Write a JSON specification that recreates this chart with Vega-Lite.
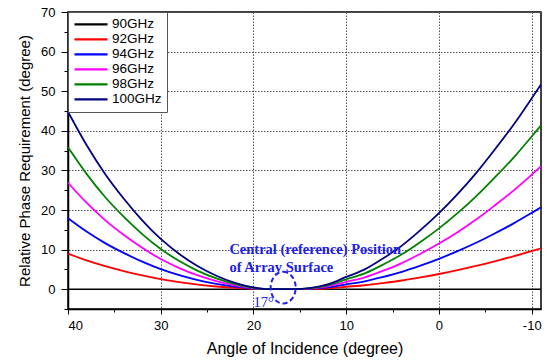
{
  "$schema": "https://vega.github.io/schema/vega-lite/v6.json",
  "width": 473,
  "height": 297,
  "autosize": {"type": "none"},
  "padding": {"left": 68, "top": 12, "right": 9, "bottom": 53},
  "background": "white",
  "config": {
    "view": {"stroke": "black", "strokeWidth": 1.5},
    "font": "Liberation Sans",
    "axis": {
      "labelFont": "Liberation Sans",
      "titleFont": "Liberation Sans",
      "labelColor": "black",
      "titleColor": "black",
      "domainColor": "black",
      "domainWidth": 1.5,
      "tickColor": "black",
      "titleFontWeight": "normal"
    }
  },
  "data": {
    "values": [
      {"angle": 40, "90GHz": 0, "92GHz": 8.96, "94GHz": 17.92, "96GHz": 26.88, "98GHz": 35.84, "100GHz": 44.8},
      {"angle": 38, "90GHz": 0, "92GHz": 7.28, "94GHz": 14.56, "96GHz": 21.84, "98GHz": 29.12, "100GHz": 36.4},
      {"angle": 36, "90GHz": 0, "92GHz": 5.82, "94GHz": 11.64, "96GHz": 17.46, "98GHz": 23.28, "100GHz": 29.1},
      {"angle": 34, "90GHz": 0, "92GHz": 4.58, "94GHz": 9.16, "96GHz": 13.74, "98GHz": 18.32, "100GHz": 22.9},
      {"angle": 32, "90GHz": 0, "92GHz": 3.48, "94GHz": 6.96, "96GHz": 10.44, "98GHz": 13.92, "100GHz": 17.4},
      {"angle": 30, "90GHz": 0, "92GHz": 2.54, "94GHz": 5.08, "96GHz": 7.62, "98GHz": 10.16, "100GHz": 12.7},
      {"angle": 28, "90GHz": 0, "92GHz": 1.78, "94GHz": 3.56, "96GHz": 5.34, "98GHz": 7.12, "100GHz": 8.9},
      {"angle": 26, "90GHz": 0, "92GHz": 1.16, "94GHz": 2.32, "96GHz": 3.48, "98GHz": 4.64, "100GHz": 5.8},
      {"angle": 24, "90GHz": 0, "92GHz": 0.68, "94GHz": 1.36, "96GHz": 2.04, "98GHz": 2.72, "100GHz": 3.4},
      {"angle": 22, "90GHz": 0, "92GHz": 0.32, "94GHz": 0.64, "96GHz": 0.96, "98GHz": 1.28, "100GHz": 1.6},
      {"angle": 20, "90GHz": 0, "92GHz": 0.09, "94GHz": 0.18, "96GHz": 0.27, "98GHz": 0.36, "100GHz": 0.45},
      {"angle": 18.5, "90GHz": 0, "92GHz": 0, "94GHz": 0, "96GHz": 0, "98GHz": 0, "100GHz": 0},
      {"angle": 17, "90GHz": 0, "92GHz": 0, "94GHz": 0, "96GHz": 0, "98GHz": 0, "100GHz": 0},
      {"angle": 15.5, "90GHz": 0, "92GHz": 0, "94GHz": 0, "96GHz": 0, "98GHz": 0, "100GHz": 0},
      {"angle": 14, "90GHz": 0, "92GHz": 0.05, "94GHz": 0.1, "96GHz": 0.15, "98GHz": 0.2, "100GHz": 0.25},
      {"angle": 12, "90GHz": 0, "92GHz": 0.24, "94GHz": 0.48, "96GHz": 0.72, "98GHz": 0.96, "100GHz": 1.2},
      {"angle": 10, "90GHz": 0, "92GHz": 0.62, "94GHz": 1.24, "96GHz": 1.86, "98GHz": 2.48, "100GHz": 3.1},
      {"angle": 8, "90GHz": 0, "92GHz": 1.0, "94GHz": 2.0, "96GHz": 3.0, "98GHz": 4.0, "100GHz": 5.0},
      {"angle": 6, "90GHz": 0, "92GHz": 1.56, "94GHz": 3.12, "96GHz": 4.68, "98GHz": 6.24, "100GHz": 7.8},
      {"angle": 4, "90GHz": 0, "92GHz": 2.2, "94GHz": 4.4, "96GHz": 6.6, "98GHz": 8.8, "100GHz": 11.0},
      {"angle": 2, "90GHz": 0, "92GHz": 2.98, "94GHz": 5.96, "96GHz": 8.94, "98GHz": 11.92, "100GHz": 14.9},
      {"angle": 0, "90GHz": 0, "92GHz": 3.84, "94GHz": 7.68, "96GHz": 11.52, "98GHz": 15.36, "100GHz": 19.2},
      {"angle": -2, "90GHz": 0, "92GHz": 4.8, "94GHz": 9.6, "96GHz": 14.4, "98GHz": 19.2, "100GHz": 24.0},
      {"angle": -4, "90GHz": 0, "92GHz": 5.86, "94GHz": 11.72, "96GHz": 17.58, "98GHz": 23.44, "100GHz": 29.3},
      {"angle": -6, "90GHz": 0, "92GHz": 7.04, "94GHz": 14.08, "96GHz": 21.12, "98GHz": 28.16, "100GHz": 35.2},
      {"angle": -8, "90GHz": 0, "92GHz": 8.28, "94GHz": 16.56, "96GHz": 24.84, "98GHz": 33.12, "100GHz": 41.4},
      {"angle": -10, "90GHz": 0, "92GHz": 9.64, "94GHz": 19.28, "96GHz": 28.92, "98GHz": 38.56, "100GHz": 48.2},
      {"angle": -11, "90GHz": 0, "92GHz": 10.34, "94GHz": 20.68, "96GHz": 31.02, "98GHz": 41.36, "100GHz": 51.7}
    ]
  },
  "layer": [
    {
      "transform": [
        {"fold": ["90GHz", "92GHz", "94GHz", "96GHz", "98GHz", "100GHz"], "as": ["freq", "phase"]},
        {"filter": "datum.freq === '90GHz'"}
      ],
      "mark": {"type": "line", "strokeWidth": 1.6},
      "encoding": {
        "x": {
          "field": "angle", "type": "quantitative",
          "scale": {"domain": [-11, 40], "reverse": true, "nice": false, "zero": false},
          "axis": {"orient": "bottom", "values": [35, 25, 15, 5, -5], "labels": false, "domain": false, "grid": false, "tickSize": 3, "title": null}
        },
        "y": {
          "field": "phase", "type": "quantitative",
          "scale": {"domain": [-5, 70], "nice": false, "zero": false},
          "axis": {"orient": "left", "values": [-5, 5, 15, 25, 35, 45, 55, 65], "labels": false, "domain": false, "grid": false, "tickSize": 4, "title": null}
        },
        "color": {
          "field": "freq", "type": "nominal",
          "scale": {
            "domain": ["90GHz", "92GHz", "94GHz", "96GHz", "98GHz", "100GHz"],
            "range": ["#000000", "#ff0000", "#0000ff", "#ff00ff", "#008000", "#000080"]
          },
          "legend": {
            "title": null, "orient": "top-left", "offset": 0, "padding": 5,
            "strokeColor": "#555555", "fillColor": "white",
            "symbolType": "stroke", "symbolSize": 1089, "symbolStrokeWidth": 2.4,
            "labelFontSize": 13.5, "labelFont": "Liberation Sans", "labelColor": "black",
            "labelOffset": 3, "clipHeight": 14.8, "rowPadding": 0
          }
        }
      }
    },
    {
      "transform": [
        {"fold": ["90GHz", "92GHz", "94GHz", "96GHz", "98GHz", "100GHz"], "as": ["freq", "phase"]},
        {"filter": "datum.freq !== '90GHz'"}
      ],
      "mark": {"type": "line", "strokeWidth": 1.8, "interpolate": "monotone"},
      "encoding": {
        "x": {
          "field": "angle", "type": "quantitative",
          "axis": {
            "orient": "bottom", "values": [40, 30, 20, 10, 0, -10],
            "labelExpr": "'' + datum.value",
            "tickSize": 5, "labelPadding": 5, "labelFontSize": 13,
            "grid": true, "gridDash": [1.5, 1.5], "gridColor": "#555555", "gridWidth": 1,
            "title": "Angle of Incidence (degree)", "titleFontSize": 16, "titlePadding": 8
          }
        },
        "y": {
          "field": "phase", "type": "quantitative",
          "axis": {
            "orient": "left", "values": [0, 10, 20, 30, 40, 50, 60, 70],
            "tickSize": 7, "labelPadding": 6, "labelFontSize": 13,
            "grid": true, "gridDash": [1.5, 1.5], "gridColor": "#555555", "gridWidth": 1,
            "title": "Relative Phase Requirement (degree)", "titleFontSize": 15, "titlePadding": 8
          }
        },
        "color": {"field": "freq", "type": "nominal"}
      }
    },
    {
      "data": {"values": [{}]},
      "mark": {
        "type": "point",
        "shape": "M0,-1C0.436,-1,0.79,-0.552,0.79,0C0.79,0.552,0.436,1,0,1C-0.436,1,-0.79,0.552,-0.79,0C-0.79,-0.552,-0.436,-1,0,-1Z",
        "size": 1005, "filled": false, "stroke": "#2020e8", "strokeWidth": 2,
        "strokeDash": [5, 3], "opacity": 1
      },
      "encoding": {
        "x": {"datum": 16.8, "type": "quantitative", "axis": null},
        "y": {"datum": 0.4, "type": "quantitative", "axis": null}
      }
    },
    {
      "data": {"values": [{}]},
      "mark": {
        "type": "text",
        "text": ["Central (reference) Position", "of Array Surface"],
        "align": "left", "baseline": "middle", "lineHeight": 17.6,
        "font": "Liberation Serif", "fontSize": 14.5, "fontWeight": "bold", "color": "#2020e8"
      },
      "encoding": {
        "x": {"datum": 22.6, "type": "quantitative", "axis": null},
        "y": {"datum": 9.8, "type": "quantitative", "axis": null}
      }
    },
    {
      "data": {"values": [{}]},
      "mark": {
        "type": "text", "text": "17°",
        "align": "left", "baseline": "middle",
        "font": "Liberation Serif", "fontSize": 14.5, "color": "#2020e8"
      },
      "encoding": {
        "x": {"datum": 20.0, "type": "quantitative", "axis": null},
        "y": {"datum": -3.4, "type": "quantitative", "axis": null}
      }
    }
  ],
  "resolve": {"axis": {"x": "independent", "y": "independent"}}
}
